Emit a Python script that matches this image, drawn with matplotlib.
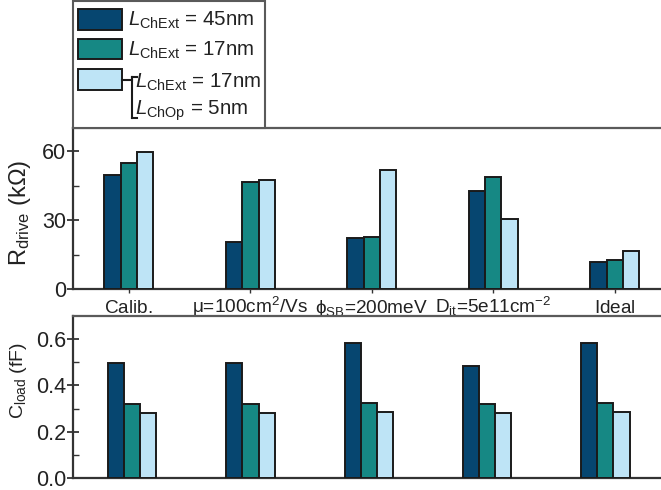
import matplotlib
matplotlib.use("Agg")
import matplotlib.pyplot as plt
import numpy as np
from matplotlib.patches import Rectangle
from matplotlib.lines import Line2D
from matplotlib.ticker import FormatStrFormatter

plt.rcParams['font.family'] = ['Liberation Sans', 'DejaVu Sans']
plt.rcParams['mathtext.fontset'] = 'custom'
plt.rcParams['mathtext.rm'] = 'Liberation Sans'
plt.rcParams['mathtext.it'] = 'Liberation Sans:italic'
plt.rcParams['mathtext.bf'] = 'Liberation Sans:bold'

# Cenários simulados (tudo em mathtext para alinhar as linhas de base)
cenarios = ['$\\mathrm{Calib.}$', 'μ=100cm$^2$/Vs', 'ϕ$_{\\rm SB}$=200meV',
            'D$_{\\rm it}$=5e11cm$^{-2}$', '$\\mathrm{Ideal}$']

# R_drive (kOhm) para cada dispositivo
rdrive_45 = [49.5, 20.3, 22.0, 42.6, 11.7]
rdrive_17 = [55.0, 46.7, 22.6, 48.6, 12.4]
rdrive_17_op5 = [59.6, 47.5, 51.9, 30.3, 16.5]

# C_load (fF)
cload_45 = [0.496, 0.496, 0.585, 0.486, 0.585]
cload_17 = [0.32, 0.32, 0.325, 0.32, 0.325]
cload_17_op5 = [0.279, 0.279, 0.286, 0.279, 0.286]

cores = ['#064670', '#168884', '#bee4f6']
borda = '#1a1a1a'

fig = plt.figure(figsize=(6.61, 4.90), dpi=100)
W, H = 661.0, 490.0

def px_box(x0, y0, x1, y1):
    # caixa em pixels (origem no topo) -> coordenadas da figura
    return [x0 / W, 1 - y1 / H, (x1 - x0) / W, (y1 - y0) / H]

ax1 = fig.add_axes(px_box(73, 128, 661, 289))
ax2 = fig.add_axes(px_box(73, 316, 661, 478))

def barras(ax, series, largura):
    x = np.arange(len(cenarios))
    for i, (vals, c) in enumerate(zip(series, cores)):
        ax.bar(x + (i - 1) * largura, vals, largura, color=c,
               edgecolor=borda, linewidth=1.4, zorder=3)
    return x

def estilo(ax):
    for s in ['left', 'bottom']:
        ax.spines[s].set_linewidth(1.6)
        ax.spines[s].set_color('#333333')
    ax.spines['top'].set_linewidth(1.6)
    ax.spines['top'].set_color('#5a5a5a')
    ax.spines['right'].set_visible(False)
    ax.tick_params(axis='y', which='major', direction='inout', length=8,
                   width=1.2, labelsize=15.5, pad=1, colors='#222222')
    ax.tick_params(axis='y', which='minor', direction='in', length=4,
                   width=1.0, colors='#333333')

x = barras(ax1, [rdrive_45, rdrive_17, rdrive_17_op5], 0.134)
ax1.set_xlim(-0.46, 4.38)
ax1.set_ylim(0, 70)
ax1.set_yticks([0, 30, 60])
ax1.set_yticks([15, 45], minor=True)
ax1.set_xticks(x)
ax1.set_xticklabels(cenarios, fontsize=13.7)
ax1.tick_params(axis='x', direction='inout', length=6, width=1.0,
                pad=14, colors='#333333', labelcolor='#222222')
for lbl in ax1.get_xticklabels():
    lbl.set_verticalalignment('baseline')
estilo(ax1)
ax1.set_ylabel('R$_{\\rm drive}$ (kΩ)', fontsize=17, color='#222222')
ax1.yaxis.set_label_coords(-0.068, 0.47)

barras(ax2, [cload_45, cload_17, cload_17_op5], 0.136)
ax2.set_xlim(-0.5, 4.47)
ax2.set_ylim(0, 0.7)
ax2.set_yticks([0, 0.2, 0.4, 0.6])
ax2.set_yticks([0.1, 0.3, 0.5], minor=True)
ax2.yaxis.set_major_formatter(FormatStrFormatter('%.1f'))
ax2.set_xticks([])
estilo(ax2)
ax2.set_ylabel('C$_{\\rm load}$ (fF)', fontsize=14, color='#222222')
ax2.yaxis.set_label_coords(-0.075, 0.6)

# Legenda desenhada à mão (com colchete para o terceiro dispositivo)
fig.patches.append(Rectangle((73 / W, 1 - 128 / H), 192 / W, 127 / H,
                             transform=fig.transFigure, facecolor='white',
                             edgecolor='#5a5a5a', linewidth=1.5, zorder=5))
caixas = [(9, 30), (39, 59), (69, 90)]
for (y0, y1), c in zip(caixas, cores):
    fig.patches.append(Rectangle((78 / W, 1 - y1 / H), 44 / W, (y1 - y0) / H,
                                 transform=fig.transFigure, facecolor=c,
                                 edgecolor=borda, linewidth=1.4, zorder=6))

def txt(xp, yp, s):
    fig.text(xp / W, 1 - yp / H, s, fontsize=14.8, ha='left', va='center',
             color='#222222', zorder=7)

txt(128, 20, '$L_{\\rm ChExt}$ = 45nm')
txt(128, 50, '$L_{\\rm ChExt}$ = 17nm')
txt(135, 82, '$L_{\\rm ChExt}$ = 17nm')
txt(135, 111, '$L_{\\rm ChOp}$ = 5nm')

colchete = [([122, 132], [80, 80]), ([132, 132], [77, 118]),
            ([132, 137], [77, 77]), ([132, 137], [118, 118])]
for xs, ys in colchete:
    fig.lines.append(Line2D([v / W for v in xs], [1 - v / H for v in ys],
                            transform=fig.transFigure, color='#1a1a1a',
                            linewidth=1.5, zorder=7))

fig.savefig('out.png', dpi=100)
